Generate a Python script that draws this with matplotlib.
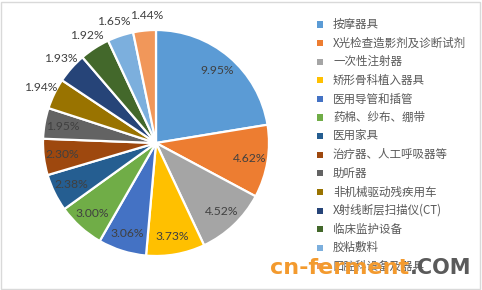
import numpy as np
import matplotlib
matplotlib.use("Agg")
import matplotlib.pyplot as plt
from matplotlib.patches import Rectangle

plt.rcParams['font.family'] = ['Noto Sans CJK SC', 'DejaVu Sans']

categories = ["按摩器具", "X光检查造影剂及诊断试剂", "一次性注射器", "矫形骨科植入器具",
              "医用导管和插管", "药棉、纱布、绷带", "医用家具", "治疗器、人工呼吸器等",
              "助听器", "非机械驱动残疾用车", "X射线断层扫描仪(CT)", "临床监护设备",
              "胶粘敷料", "口腔科设备及器具"]
values = [9.95, 4.62, 4.52, 3.73, 3.06, 3.00, 2.38, 2.30, 1.95, 1.94, 1.93, 1.92, 1.65, 1.44]
labels = ["9.95%", "4.62%", "4.52%", "3.73%", "3.06%", "3.00%", "2.38%", "2.30%",
          "1.95%", "1.94%", "1.93%", "1.92%", "1.65%", "1.44%"]
colors = ["#5B9BD5", "#ED7D31", "#A5A5A5", "#FFC000", "#4472C4", "#70AD47", "#255E91",
          "#9E480E", "#636363", "#997300", "#264478", "#43682B", "#7CAFDD", "#F1975A"]
outside = [False]*9 + [True]*5

W, H = 482, 290
fig = plt.figure(figsize=(W/100, H/100), dpi=100)

cx, cy, r = 156, 143, 113
ax = fig.add_axes([(cx - r)/W, (H - cy - r)/H, 2*r/W, 2*r/H])
wedges, _ = ax.pie(values, colors=colors, startangle=90, counterclock=False,
                   radius=1.0, wedgeprops=dict(edgecolor="white", linewidth=1.6))
ax.set_xlim(-1, 1)
ax.set_ylim(-1, 1)
ax.set_aspect('equal')
ax.axis('off')

for i, (w, lab, out) in enumerate(zip(wedges, labels, outside)):
    ang = np.deg2rad((w.theta1 + w.theta2) / 2)
    rr = 1.13 if out else 0.84
    x, y = rr*np.cos(ang), rr*np.sin(ang)
    if i == len(wedges) - 1:
        x += 0.03
    elif i == len(wedges) - 2:
        x -= 0.02
    ax.text(x, y, lab, ha='center', va='center',
            fontsize=8.7, color='#404040', family=['Lato', 'DejaVu Sans'])

# legend
for i, (w, name) in enumerate(zip(wedges, categories)):
    y = 24.5 + i*18.6
    fig.patches.append(Rectangle((317/W, 1 - (y + 3)/H), 6/W, 6/H,
                                 transform=fig.transFigure, facecolor=w.get_facecolor(),
                                 edgecolor='none'))
    fig.text(333/W, 1 - y/H, name, ha='left', va='center', fontsize=8.3, color='#595959')

# frame
fig.patches.append(Rectangle((1/W, 1/H), (W-3)/W, (H-3)/H, transform=fig.transFigure,
                             facecolor='none', edgecolor='#D9D9D9', linewidth=1))

# watermark
fig.text(270/W, 1 - 268/H, "cn-ferment", ha='left', va='center', fontsize=16,
         fontweight='bold', color='#F39A2E', family=['DejaVu Sans'])
fig.text(410/W, 1 - 268/H, ".COM", ha='left', va='center', fontsize=15,
         fontweight='bold', color='#5A5A5A', family=['DejaVu Sans'])

fig.savefig("out.png", dpi=100, facecolor='white')
